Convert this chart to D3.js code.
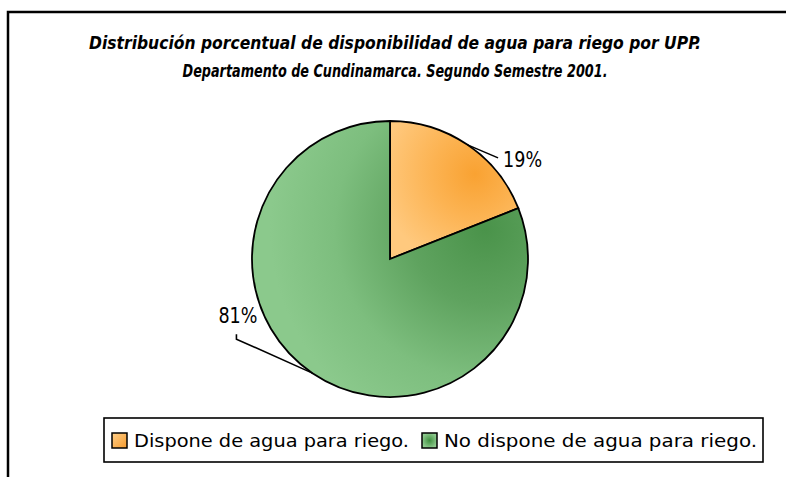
<!DOCTYPE html>
<html lang="es">
	<head>
		<meta charset="utf-8">
		<title>Disponibilidad de agua para riego</title>
		<script type="text/javascript" src="https://cdn.jsdelivr.net/npm/d3@7/dist/d3.min.js"></script>
		<style type="text/css">
			body {
				margin: 0;
				background: #fff;
			}
			.narrow {
				font-family: "DejaVu Sans Condensed", "Liberation Sans Narrow", "Liberation Sans", Arial, sans-serif;
			}
			.title {
				font-size: 18px;
				font-weight: bold;
				font-style: italic;
				text-anchor: middle;
				fill: #000;
			}
			.pct {
				font-size: 22px;
				fill: #000;
			}
			.leg {
				font-size: 18px;
				fill: #000;
			}
		</style>
	</head>
	<body>
		<script type="text/javascript">

			//Data
			var categories = ["Dispone de agua para riego.", "No dispone de agua para riego."];
			var values = [19, 81];
			var pctLabels = ["19%", "81%"];
			var titleLines = [
				"Distribución porcentual de disponibilidad de agua para riego por UPP.",
				"Departamento de Cundinamarca. Segundo Semestre 2001."
			];

			//Settings
			var w = 786
			var h = 477
			var cx = 390, cy = 259
			var radius = 138

			var svg = d3.select("body")
				.append("svg")
				.attr("width", w)
				.attr("height", h);

			var defs = svg.append("defs");

			// slice gradients, coords relative to the pie centre (the g below is translated)
			function radGrad(id, gx, gy, r, stops) {
				var g = defs.append("radialGradient")
					.attr("id", id)
					.attr("gradientUnits", "userSpaceOnUse")
					.attr("cx", gx).attr("cy", gy).attr("r", r);
				stops.forEach(function (s) {
					g.append("stop").attr("offset", s[0]).attr("stop-color", s[1]);
				});
			}
			radGrad("gOrange", 85, -85, 95, [[0, "#f9a232"], [0.45, "#fcb352"], [1, "#ffc97e"]]);
			radGrad("gGreen", 95, -30, 215, [[0, "#4a934a"], [0.35, "#5fa35f"], [0.7, "#7dbe7e"], [1, "#8bc98c"]]);

			var legGradO = defs.append("linearGradient").attr("id", "lgO")
				.attr("x1", 0).attr("y1", 0).attr("x2", 1).attr("y2", 1);
			legGradO.append("stop").attr("offset", 0).attr("stop-color", "#ffd08a");
			legGradO.append("stop").attr("offset", 1).attr("stop-color", "#f59a2e");
			var legGradG = defs.append("radialGradient").attr("id", "lgG");
			legGradG.append("stop").attr("offset", 0).attr("stop-color", "#3f8f3f");
			legGradG.append("stop").attr("offset", 1).attr("stop-color", "#8cc98c");

			var fills = ["url(#gOrange)", "url(#gGreen)"];
			var legFills = ["url(#lgO)", "url(#lgG)"];

			// chart frame (cropped on right and bottom)
			svg.append("rect")
				.attr("x", 8).attr("y", 12)
				.attr("width", 820).attr("height", 520)
				.attr("fill", "none")
				.attr("stroke", "#000")
				.attr("stroke-width", 2.5);

			// title
			var titleWidths = [612, 425];
			svg.selectAll("text.title")
				.data(titleLines)
				.enter()
				.append("text")
				.attr("class", "title narrow")
				.attr("x", 395)
				.attr("y", function (d, i) { return 49 + i * 28; })
				.attr("textLength", function (d, i) { return titleWidths[i]; })
				.attr("lengthAdjust", "spacingAndGlyphs")
				.text(function (d) { return d; });

			// pie
			var pie = d3.pie()
				.sort(null)
				.value(function (d) { return d; });

			var arc = d3.arc()
				.innerRadius(0)
				.outerRadius(radius);

			var g = svg.append("g")
				.attr("transform", "translate(" + cx + "," + cy + ")");

			var arcs = pie(values);

			g.selectAll("path")
				.data(arcs)
				.enter()
				.append("path")
				.attr("d", arc)
				.attr("fill", function (d, i) { return fills[i]; })
				.attr("stroke", "#000")
				.style("stroke-width", "1.8px");

			// data labels with leader lines
			function edgePoint(d) {
				var a = (d.startAngle + d.endAngle) / 2;
				return [radius * Math.sin(a), -radius * Math.cos(a)];
			}

			arcs.forEach(function (d, i) {
				var p = edgePoint(d);
				var pts, tx, ty, anchor;
				if (p[0] > 0) {
					pts = [p, [p[0] + 30.5, p[1] + 13]];
					tx = pts[1][0] + 5; ty = pts[1][1] + 9; anchor = "start";
				} else {
					var knee = [p[0] - 76, p[1] - 34];
					pts = [p, knee, [knee[0], knee[1] - 5]];
					tx = knee[0] + 21; ty = knee[1] - 16; anchor = "end";
				}
				g.append("path")
					.attr("d", d3.line()(pts))
					.attr("fill", "none")
					.attr("stroke", "#000")
					.attr("stroke-width", 1.6);
				g.append("text")
					.attr("class", "pct narrow")
					.attr("x", tx)
					.attr("y", ty)
					.attr("text-anchor", anchor)
					.attr("textLength", 39)
					.attr("lengthAdjust", "spacingAndGlyphs")
					.text(pctLabels[i]);
			});

			// legend
			var legX = 104, legY = 418, legW = 659, legH = 44;
			var leg = svg.append("g");
			leg.append("rect")
				.attr("x", legX).attr("y", legY)
				.attr("width", legW).attr("height", legH)
				.attr("fill", "#fff")
				.attr("stroke", "#000")
				.attr("stroke-width", 1.6);

			var itemX = [112, 422];
			var textW = [275, 313];
			var item = leg.selectAll("g.item")
				.data(categories)
				.enter()
				.append("g")
				.attr("class", "item")
				.attr("transform", function (d, i) { return "translate(" + itemX[i] + "," + (legY + 15) + ")"; });

			item.append("rect")
				.attr("width", 15).attr("height", 15)
				.attr("fill", function (d, i) { return legFills[i]; })
				.attr("stroke", "#000")
				.attr("stroke-width", 1.5);

			item.append("text")
				.attr("class", "leg narrow")
				.attr("x", 22)
				.attr("y", 14)
				.attr("textLength", function (d, i) { return textW[i]; })
				.attr("lengthAdjust", "spacingAndGlyphs")
				.text(function (d) { return d; });

		</script>
	</body>
</html>
